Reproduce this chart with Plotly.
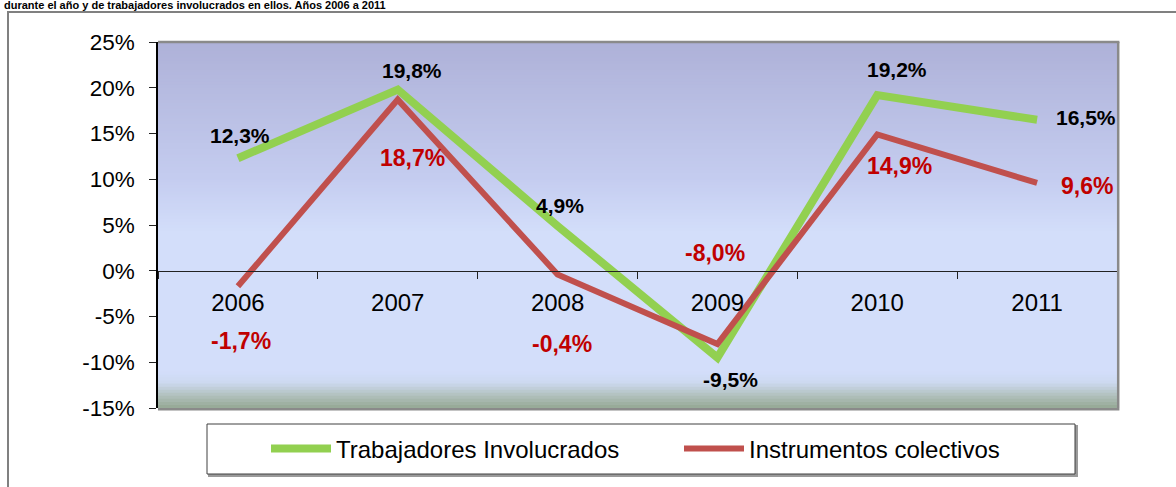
import plotly.graph_objects as go

# ---------------- data ----------------
years = ["2006", "2007", "2008", "2009", "2010", "2011"]
trabajadores = [12.3, 19.8, 4.9, -9.5, 19.2, 16.5]
instrumentos = [-1.7, 18.7, -0.4, -8.0, 14.9, 9.6]
y_ticks = [-15, -10, -5, 0, 5, 10, 15, 20, 25]
y_tick_labels = ["-15%", "-10%", "-5%", "0%", "5%", "10%", "15%", "20%", "25%"]
series_names = ["Trabajadores Involucrados", "Instrumentos colectivos"]
title_text = "durante el año y de trabajadores involucrados en ellos. Años 2006 a 2011"

# label offsets (pixels) for the data labels
trab_dx = [2, 14, 2, 13, 20, 49]
trab_dy = [23, 19, 20, -22, 26, 2]
inst_dx = [3, 15, 4, -2, 22, 50]
inst_dy = [-55, -58, -70, 91, -32, -3]

# ---------------- layout geometry ----------------
W, H = 1176, 487
L, R, T, B = 158, 59, 42, 79
PW, PH = W - L - R, H - T - B
YMIN, YMAX = -15, 25


def px(xp):
    return (xp - L) / PW


def py(yp):
    return (H - B - yp) / PH


GREEN = "#92D050"
RED = "#C0504D"
LABEL_RED = "#C00000"
FONT = "Liberation Sans, Arial, sans-serif"

fig = go.Figure()
fig.add_trace(go.Scatter(x=years, y=trabajadores, mode="lines", name=series_names[0],
                         line=dict(color=GREEN, width=8), hoverinfo="skip"))
fig.add_trace(go.Scatter(x=years, y=instrumentos, mode="lines", name=series_names[1],
                         line=dict(color=RED, width=6), hoverinfo="skip"))

annotations = []
for vals, dxs, dys, col, fs in [(trabajadores, trab_dx, trab_dy, "black", 21),
                                (instrumentos, inst_dx, inst_dy, LABEL_RED, 23)]:
    for i, (v, dx, dy) in enumerate(zip(vals, dxs, dys)):
        annotations.append(dict(
            x=i, y=v, xref="x", yref="y", text="<b>" + f"{v:.1f}%".replace(".", ",") + "</b>",
            showarrow=False, xshift=dx, yshift=dy,
            font=dict(family=FONT, size=fs, color=col)))

annotations.append(dict(
    x=px(2), y=py(13), xref="paper", yref="paper", xanchor="left", yanchor="bottom",
    text=f"<b>{title_text}</b>", showarrow=False,
    font=dict(family=FONT, size=11, color="black")))

# background gradient bands
stops = [(0.0, (148, 168, 148)), (0.03, (174, 190, 184)), (0.07, (205, 217, 240)),
         (0.10, (211, 222, 250)), (0.48, (211, 222, 250)), (0.62, (197, 205, 240)),
         (1.0, (174, 177, 216))]


def col_at(f):
    for (f0, c0), (f1, c1) in zip(stops[:-1], stops[1:]):
        if f0 <= f <= f1:
            t = (f - f0) / (f1 - f0) if f1 > f0 else 0
            return "rgb(%d,%d,%d)" % tuple(round(a + (b - a) * t) for a, b in zip(c0, c1))
    return "rgb(%d,%d,%d)" % stops[-1][1]


shapes = []
N = 120
for i in range(N):
    f0, f1 = i / N, (i + 1) / N
    shapes.append(dict(type="rect", xref="x domain", yref="y domain", x0=0, x1=1,
                       y0=f0, y1=f1 + 0.002, fillcolor=col_at((f0 + f1) / 2),
                       line=dict(width=0), layer="below"))

# plot area border (top, right, bottom gray)
border = "#8A8A8A"
shapes += [
    dict(type="line", xref="paper", yref="paper", x0=0, x1=1 + 2.4 / PW, y0=1, y1=1,
         line=dict(color=border, width=2.5)),
    dict(type="line", xref="paper", yref="paper", x0=1 + 1.2 / PW, x1=1 + 1.2 / PW, y0=0, y1=1,
         line=dict(color=border, width=2.5)),
    dict(type="line", xref="paper", yref="paper", x0=0, x1=1 + 2.4 / PW, y0=-1.2 / PH, y1=-1.2 / PH,
         line=dict(color=border, width=2.5)),
]
# outer frame
shapes.append(dict(type="rect", xref="paper", yref="paper", x0=px(8), x1=px(1190),
                   y0=py(500), y1=py(12), line=dict(color="#808080", width=2),
                   fillcolor="rgba(0,0,0,0)", layer="below"))
# legend box with shadow
shapes.append(dict(type="rect", xref="paper", yref="paper", x0=px(209), x1=px(1077),
                   y0=py(476), y1=py(426), line=dict(color="#9A9A9A", width=2),
                   fillcolor="#9A9A9A"))
shapes.append(dict(type="rect", xref="paper", yref="paper", x0=px(207), x1=px(1075),
                   y0=py(474), y1=py(424), line=dict(color="#404040", width=1),
                   fillcolor="white"))

zero_pos = (0 - YMIN) / (YMAX - YMIN)

fig.update_layout(
    width=W, height=H,
    margin=dict(l=L, r=R, t=T, b=B, autoexpand=False),
    paper_bgcolor="white", plot_bgcolor="rgb(211,222,250)",
    font=dict(family=FONT, size=22, color="black"),
    showlegend=True,
    legend=dict(orientation="h", x=px(266), y=py(449), xanchor="left", yanchor="middle",
                bgcolor="rgba(0,0,0,0)", borderwidth=0,
                font=dict(family=FONT, size=24, color="black"),
                entrywidth=338, entrywidthmode="pixels", itemwidth=60),
    xaxis=dict(type="category", categoryorder="array", categoryarray=years,
               range=[-0.5, len(years) - 0.5], anchor="free", position=zero_pos,
               showline=True, linecolor="#222222", linewidth=1.2,
               ticks="outside", ticklen=7, tickcolor="#222222", tickson="boundaries",
               showgrid=False, zeroline=False, ticklabelstandoff=10,
               tickfont=dict(family=FONT, size=24, color="black"), fixedrange=True),
    xaxis2=dict(overlaying="x", range=[-0.5, len(years) - 0.5], anchor="free",
                position=zero_pos, showline=False, ticks="inside", ticklen=7,
                tickcolor="#222222", tickvals=[i - 0.5 for i in range(len(years) + 1)],
                showticklabels=False, showgrid=False, zeroline=False),
    yaxis=dict(range=[YMIN, YMAX], tickvals=y_ticks, ticktext=y_tick_labels,
               showline=True, linecolor="black", linewidth=1.5, ticks="outside",
               ticklen=7, tickcolor="#222222", showgrid=False, zeroline=False,
               ticklabelstandoff=10, tickfont=dict(family=FONT, size=22.5, color="black")),
    yaxis2=dict(overlaying="y", range=[YMIN, YMAX], tickvals=y_ticks, ticks="inside",
                ticklen=6, tickcolor="#444444", showticklabels=False, showgrid=False,
                zeroline=False, showline=False, anchor="x", side="left"),
    shapes=shapes,
    annotations=annotations,
)

fig.write_html("out.html", config={"displayModeBar": False},
               post_script="document.body.style.margin='0px';")
